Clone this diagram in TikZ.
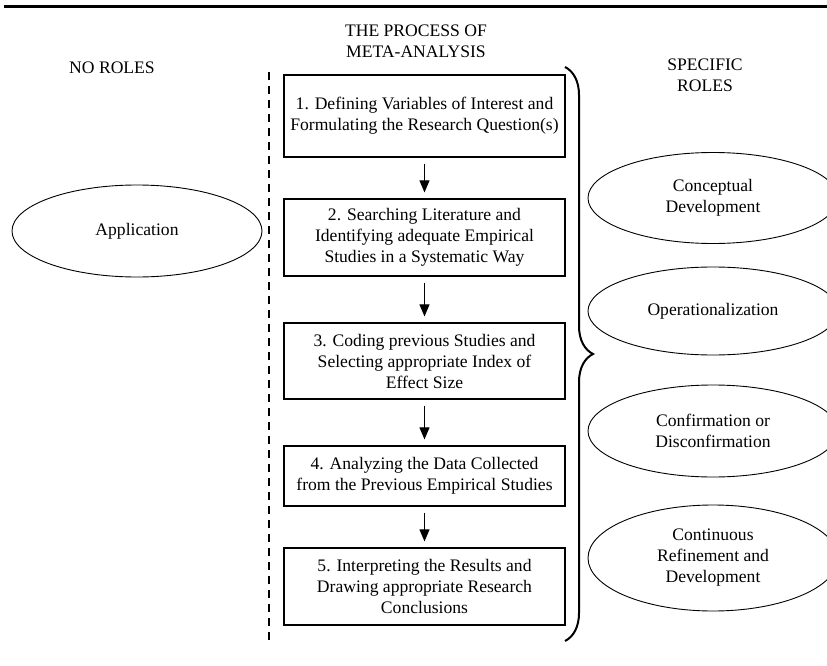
\documentclass[tikz,border=0pt]{standalone}
\usepackage{fontspec}
\setmainfont{Liberation Serif}
\usetikzlibrary{shapes.geometric,arrows.meta,decorations.pathreplacing}

\begin{document}
\begin{tikzpicture}[x=1pt,y=-1pt,font=\fontsize{17.6}{21}\selectfont,
	stage/.style={draw,line width=1.2pt,minimum width=281pt,align=center,inner sep=0pt},
	role/.style={draw,ellipse,line width=0.9pt,minimum width=250pt,align=center,inner sep=0pt},
	flow/.style={-{Triangle[length=12pt,width=10pt]},line width=1pt,shorten <=6pt,shorten >=6pt}]
	\useasboundingbox (0,0) rectangle (827,666);
	\clip (0,0) rectangle (827,666);
	\coordinate (ruleL) at (4,7);
	\coordinate (ruleR) at (827,7);
	\draw[line width=3pt] (ruleL) -- (ruleR);
	\node[align=center] (title) at (416,41) {THE PROCESS OF\\META-ANALYSIS};
	\node (noroles) at (112,68) {NO ROLES};
	\node[align=center] (specific) at (705,75) {SPECIFIC\\ROLES};
	\node[stage,minimum height=82pt] (s1) at (424.5,116) {1. Defining Variables of Interest and\\Formulating the Research Question(s)};
	\node[stage,minimum height=77pt] (s2) at (424.5,237.5) {2. Searching Literature and\\Identifying adequate Empirical\\Studies in a Systematic Way};
	\node[stage,minimum height=76pt] (s3) at (424.5,361) {3. Coding previous Studies and\\Selecting appropriate Index of\\Effect Size};
	\node[stage,minimum height=60pt] (s4) at (424.5,476) {4. Analyzing the Data Collected\\from the Previous Empirical Studies};
	\node[stage,minimum height=77pt] (s5) at (424.5,586.5) {5. Interpreting the Results and\\Drawing appropriate Research\\Conclusions};
	\draw[flow] (s1) -- (s2);
	\draw[flow] (s2) -- (s3);
	\draw[flow] (s3) -- (s4);
	\draw[flow] (s4) -- (s5);
	\coordinate (dashT) at (269,72);
	\coordinate (dashB) at (269,640);
	\draw[line width=2.5pt,dash pattern=on 8pt off 6pt] (dashT) -- (dashB);
	\node[role,minimum height=92pt] (app) at (137,231) {Application};
	\coordinate (braceT) at (565,67);
	\coordinate (braceB) at (565,641);
	\draw[line width=2pt,decorate,decoration={brace,amplitude=28pt}] (braceT) -- (braceB);
	\node[role,minimum height=91pt] (concept) at (713,198) {Conceptual\\Development};
	\node[role,minimum height=88pt] (oper) at (713,311) {Operationalization};
	\node[role,minimum height=92pt] (confirm) at (713,431) {Confirmation or\\Disconfirmation};
	\node[role,minimum height=106pt] (refine) at (713,558) {Continuous\\Refinement and\\Development};
\end{tikzpicture}
\end{document}
